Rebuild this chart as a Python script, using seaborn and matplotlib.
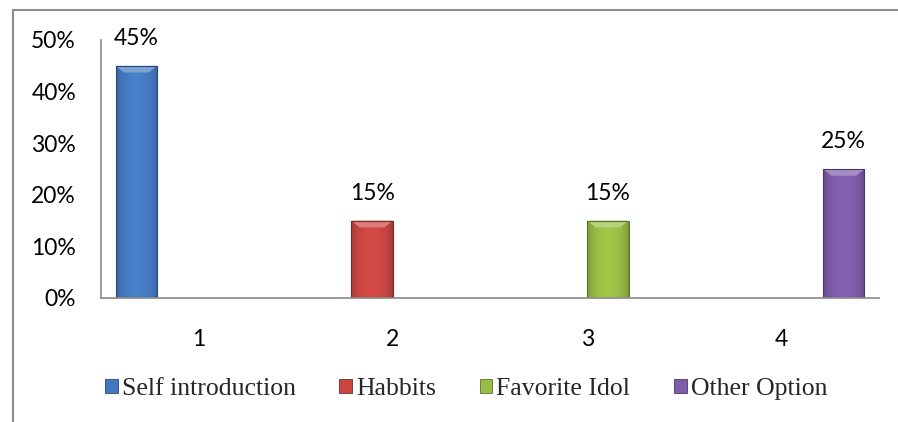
import numpy as np
import pandas as pd
import matplotlib
matplotlib.use("Agg")
import matplotlib.pyplot as plt
import seaborn as sns
from matplotlib.lines import Line2D
from matplotlib.colors import to_rgb
from matplotlib.patches import Polygon, Rectangle

categories = ["1", "2", "3", "4"]
series = ["Self introduction", "Habbits", "Favorite Idol", "Other Option"]
self_intro = [0.45, 0, 0, 0]
habbits = [0, 0.15, 0, 0]
favorite_idol = [0, 0, 0.15, 0]
other_option = [0, 0, 0, 0.25]
y_ticks = [0, 0.1, 0.2, 0.3, 0.4, 0.5]
y_tick_labels = ["0%", "10%", "20%", "30%", "40%", "50%"]
colors = ["#4479C0", "#C94643", "#98BC45", "#7D5CA8"]

rows = []
for name, vals in zip(series, [self_intro, habbits, favorite_idol, other_option]):
    for c, v in zip(categories, vals):
        rows.append(dict(category=c, series=name, value=v))
df = pd.DataFrame(rows)

sns.set_theme(style="white")
plt.rcParams["font.family"] = ["Lato", "DejaVu Sans"]

W, H = 898, 422
fig = plt.figure(figsize=(W / 100, H / 100), dpi=100)
ax = fig.add_axes([101 / W, 1 - 298 / H, (879 - 101) / W, (298 - 40) / H])

sns.barplot(data=df, x="category", y="value", hue="series", order=categories,
            hue_order=series, palette=colors, width=0.85, saturation=1,
            ax=ax, legend=False)


def shade(c, f):
    rgb = np.array(to_rgb(c))
    if f >= 1:
        return tuple(rgb + (1 - rgb) * (f - 1))
    return tuple(rgb * f)


for cont, col in zip(ax.containers, colors):
    for p in cont:
        x0, y0 = p.get_x(), p.get_y()
        w, h = p.get_width(), p.get_height()
        if h <= 0:
            p.set_visible(False)
            continue
        p.set_edgecolor(shade(col, 0.6))
        p.set_linewidth(0.8)
        rgb = np.array(to_rgb(col))
        t = np.linspace(0, 1, 60)
        prof = 0.80 + 0.26 * np.sin(np.pi * t) ** 0.6
        img = np.clip(rgb[None, :] * prof[:, None], 0, 1)[None, :, :]
        im = ax.imshow(img, extent=[x0, x0 + w, y0, y0 + h], aspect="auto",
                       zorder=p.get_zorder() + 0.1, interpolation="bicubic")
        im.set_clip_path(p)
        bh = 0.013
        bw = w * 0.2
        top = Polygon([(x0, y0 + h), (x0 + w, y0 + h), (x0 + w - bw, y0 + h - bh),
                       (x0 + bw, y0 + h - bh)], closed=True,
                      facecolor=shade(col, 1.3), edgecolor="none",
                      zorder=p.get_zorder() + 0.2)
        ax.add_patch(top)
        p.set_zorder(p.get_zorder() + 0.3)
        p.set_facecolor("none")
    labels = [f"{v * 100:.0f}%" if v > 0 else "" for v in cont.datavalues]
    ax.bar_label(cont, labels=labels, padding=12, fontsize=16.5, color="black")

ax.set_xlim(-0.5, 3.5)
ax.set_ylim(0, 0.5)
ax.set_yticks(y_ticks)
ax.set_yticklabels(y_tick_labels)
ax.set_xlabel("")
ax.set_ylabel("")
ax.tick_params(axis="y", length=0, pad=18, labelsize=16.5, labelcolor="black")
ax.tick_params(axis="x", length=0, pad=22, labelsize=16.5, labelcolor="black")
for s in ["top", "right"]:
    ax.spines[s].set_visible(False)
for s in ["left", "bottom"]:
    ax.spines[s].set_color("#8a8a8a")
    ax.spines[s].set_linewidth(1.2)
ax.grid(False)

handles = [Rectangle((0, 0), 1, 1, facecolor=c, edgecolor=shade(c, 0.6), linewidth=0.6)
           for c in colors]
fig.legend(handles, series, loc="center", bbox_to_anchor=(466 / W, 1 - 389 / H),
           ncol=4, frameon=False, prop=dict(family="Liberation Serif", size=18.5),
           handlelength=0.5, handleheight=0.5, handletextpad=0.15,
           columnspacing=1.7, borderaxespad=0, borderpad=0)

fig.add_artist(Line2D([13 / W, 1], [1 - 9.5 / H] * 2, color="#8c8c8c", lw=1.5,
                      transform=fig.transFigure))
fig.add_artist(Line2D([13 / W] * 2, [0, 1 - 9.5 / H], color="#8c8c8c", lw=1.5,
                      transform=fig.transFigure))

fig.savefig("out.png", dpi=100, facecolor="white")
